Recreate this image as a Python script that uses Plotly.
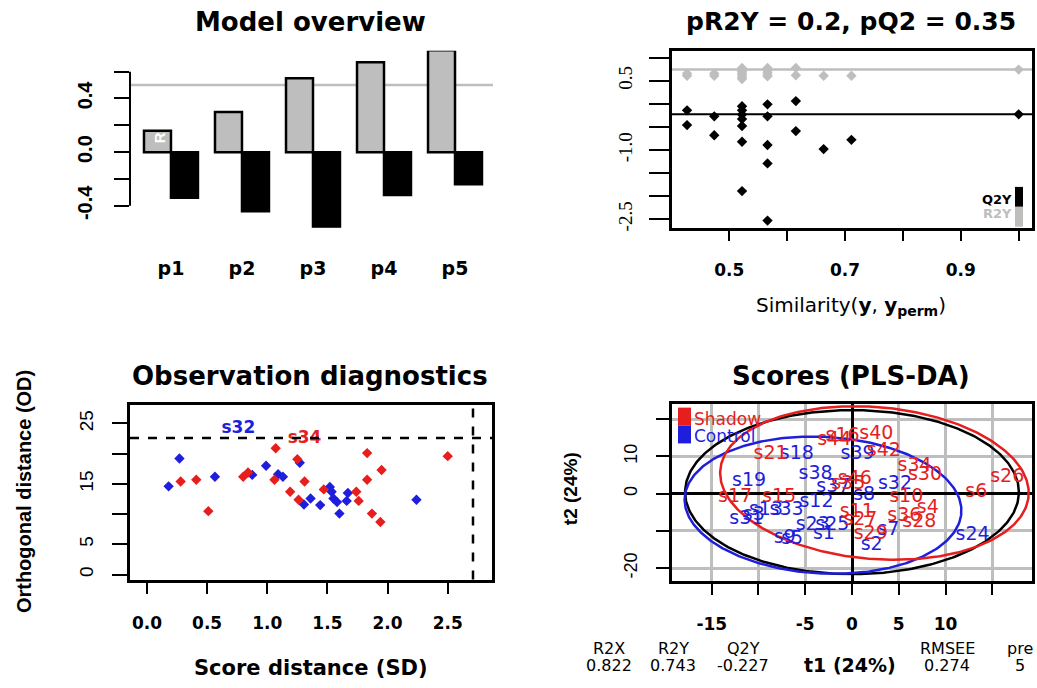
import numpy as np
import plotly.graph_objects as go

W, H = 1037, 688

# ---------------- Panel 1: Model overview ----------------
comps = ["p1", "p2", "p3", "p4", "p5"]
r2y_cum = [0.16, 0.30, 0.55, 0.67, 0.76]
q2_cum = [-0.34, -0.44, -0.56, -0.32, -0.24]
overview_ref = 0.5

# ---------------- Panel 2: permutation test ----------------
perm_sim = [0.427, 0.427, 0.474, 0.474,
            0.522, 0.522, 0.522, 0.522, 0.522, 0.522, 0.522,
            0.566, 0.566, 0.566, 0.566, 0.566,
            0.615, 0.615, 0.663, 0.711, 1.0]
perm_r2y = [0.66, 0.61, 0.66, 0.61,
            0.78, 0.74, 0.70, 0.66, 0.62, 0.58, 0.54,
            0.78, 0.73, 0.68, 0.63, 0.60,
            0.78, 0.62, 0.61, 0.61, 0.743]
perm_q2 = [-0.14, -0.46, -0.27, -0.68,
           -0.05, -0.14, -0.23, -0.33, -0.48, -0.82, -1.89,
           -0.01, -0.27, -0.89, -1.29, -2.53,
           0.06, -0.59, -0.98, -0.78, -0.227]
model_r2y = 0.743
model_q2 = -0.227

# ---------------- Panel 3: Observation diagnostics ----------------
ctrl_sd = [0.18, 0.27, 0.565, 0.875, 0.99, 1.09, 1.13, 1.27, 1.305, 1.36,
           1.44, 1.52, 1.535, 1.55, 1.58, 1.60, 1.66, 1.67, 2.24]
ctrl_od = [14.6, 19.2, 16.2, 16.5, 18.0, 16.6, 16.2, 18.5, 11.6, 12.6,
           11.5, 14.5, 13.7, 12.6, 12.0, 10.1, 12.2, 13.5, 12.4]
shad_sd = [0.28, 0.41, 0.51, 0.80, 0.84, 1.07, 1.06, 1.19, 1.25, 1.26,
           1.31, 1.47, 1.74, 1.76, 1.83, 1.83, 1.87, 1.95, 1.94, 2.50]
shad_od = [15.4, 15.7, 10.5, 16.2, 16.9, 20.9, 15.7, 13.7, 19.1, 12.4,
           15.4, 14.1, 13.7, 12.2, 20.1, 15.7, 10.1, 17.3, 8.7, 19.6]
out_labels = ["s32", "s34"]
out_group = ["Control", "Shadow"]
out_sd = [0.76, 1.31]
out_od = [24.2, 22.5]
sd_limit = 2.71
od_limit = 22.6

# ---------------- Panel 4: Scores (PLS-DA) ----------------
shad_labels = ["s21", "s17", "s15", "s16", "s44", "s40", "s42", "s34", "s30", "s46",
               "s35", "s26", "s6", "s10", "s4", "s11", "s27", "s36", "s28", "s29"]
shad_t1 = [-8.7, -12.5, -7.8, -1.0, -1.9, 2.6, 3.4, 6.7, 7.8, 0.3,
           -0.4, 16.6, 13.3, 5.8, 8.1, 0.5, 0.9, 5.6, 7.2, 2.0]
shad_t2 = [10.6, -1.0, -1.0, 15.3, 14.4, 15.9, 11.4, 7.3, 4.9, 3.8,
           2.5, 4.4, 0.4, -0.9, -3.9, -4.9, -7.1, -6.0, -7.6, -10.8]
ctrl_labels = ["s18", "s19", "s38", "s12", "s33", "s13", "s3", "s31", "s23", "s25",
               "s9", "s5", "s1", "s39", "s37", "s8", "s32", "s7", "s2", "s24"]
ctrl_t1 = [-5.9, -11.0, -3.9, -3.8, -7.0, -9.2, -10.5, -11.3, -4.2, -2.1,
           -7.2, -6.4, -3.0, 0.6, -2.0, 1.3, 4.6, 3.9, 2.1, 12.9]
ctrl_t2 = [10.6, 3.2, 5.3, -2.4, -4.5, -4.5, -5.8, -6.8, -8.5, -8.5,
           -12.0, -12.3, -11.0, 10.6, 1.8, -0.4, 2.4, -9.7, -13.8, -11.3]
ell_names = ["all", "Control", "Shadow"]
ell_cx = [0.0, -3.1, 2.4]
ell_cy = [0.4, -3.1, 2.85]
ell_rx = [17.85, 14.67, 16.14]
ell_ry = [22.0, 18.5, 20.88]
ell_angle = [0.0, 10.0, 15.0]
ell_colors = ["black", "#1E1EDC", "#E61E1E"]

stat_names = ["R2X", "R2Y", "Q2Y", "RMSEE", "pre"]
stat_values = ["0.822", "0.743", "-0.227", "0.274", "5"]

RED = "#E61E1E"
BLUE = "#1E1EDC"
GRAY = "#BEBEBE"
SANS = "DejaVu Sans"
ARIAL = "Liberation Sans"


def px(x):
    return x / W


def py(y):
    return 1 - y / H


fig = go.Figure()

# ---- Panel 1 bars
fig.add_trace(go.Bar(x=comps, y=r2y_cum, marker=dict(color=GRAY, line=dict(color="black", width=2.5)),
                     xaxis="x", yaxis="y", showlegend=False))
fig.add_trace(go.Bar(x=comps, y=q2_cum, marker=dict(color="black", line=dict(color="black", width=2.5)),
                     xaxis="x", yaxis="y", showlegend=False))

# ---- Panel 2 scatter
fig.add_trace(go.Scatter(x=perm_sim, y=perm_r2y, mode="markers",
                         marker=dict(symbol="diamond", size=8, color=GRAY),
                         xaxis="x2", yaxis="y2", showlegend=False))
fig.add_trace(go.Scatter(x=perm_sim, y=perm_q2, mode="markers",
                         marker=dict(symbol="diamond", size=8, color="black"),
                         xaxis="x2", yaxis="y2", showlegend=False))

# ---- Panel 3 scatter
fig.add_trace(go.Scatter(x=ctrl_sd, y=ctrl_od, mode="markers",
                         marker=dict(symbol="diamond", size=8, color=BLUE),
                         xaxis="x3", yaxis="y3", showlegend=False))
fig.add_trace(go.Scatter(x=shad_sd, y=shad_od, mode="markers",
                         marker=dict(symbol="diamond", size=8, color=RED),
                         xaxis="x3", yaxis="y3", showlegend=False))
fig.add_trace(go.Scatter(x=out_sd, y=out_od, mode="text", text=out_labels,
                         textfont=dict(family=SANS, size=17, weight="bold",
                                       color=[BLUE if g == "Control" else RED for g in out_group]),
                         xaxis="x3", yaxis="y3", showlegend=False))

# ---- Panel 4 ellipses and labels
phi = np.linspace(0, 2 * np.pi, 361)
for nm, cx, cy, rx, ry, ang, col in zip(ell_names, ell_cx, ell_cy, ell_rx, ell_ry, ell_angle, ell_colors):
    th = np.deg2rad(ang)
    ex = cx + rx * np.cos(th) * np.cos(phi) - ry * np.sin(th) * np.sin(phi)
    ey = cy + rx * np.sin(th) * np.cos(phi) + ry * np.cos(th) * np.sin(phi)
    fig.add_trace(go.Scatter(x=ex, y=ey, mode="lines", line=dict(color=col, width=2.5),
                             xaxis="x4", yaxis="y4", showlegend=False, hoverinfo="skip"))
fig.add_trace(go.Scatter(x=ctrl_t1, y=ctrl_t2, mode="text", text=ctrl_labels,
                         textfont=dict(family=SANS, size=19, color=BLUE),
                         xaxis="x4", yaxis="y4", showlegend=False))
fig.add_trace(go.Scatter(x=shad_t1, y=shad_t2, mode="text", text=shad_labels,
                         textfont=dict(family=SANS, size=19, color=RED),
                         xaxis="x4", yaxis="y4", showlegend=False))

tick_bold = dict(family=SANS, size=17, color="black", weight="bold")
minor_common = dict(ticks="outside", tickwidth=2, tickcolor="black")

layout = dict(
    width=W, height=H, margin=dict(l=0, r=0, t=0, b=0),
    paper_bgcolor="white", plot_bgcolor="white",
    barmode="group", bargap=0.24, bargroupgap=0,
    showlegend=False,
    # panel 1
    xaxis=dict(domain=[px(130), px(493)], anchor="y", type="category", range=[-0.577, 4.535],
               showline=False, ticks="", showgrid=False, zeroline=False,
               tickfont=dict(family=SANS, size=19, color="black", weight="bold"),
               ticklabelstandoff=27),
    yaxis=dict(domain=[py(229), py(51)], anchor="x", range=[-0.563, 0.756],
               tickvals=[-0.4, 0.0, 0.4], ticktext=["-0.4", "0.0", "0.4"],
               ticks="outside", ticklen=15, tickwidth=2, tickcolor="black",
               minor=dict(tickvals=[-0.2, 0.2, 0.6], ticklen=15, showgrid=False, **minor_common),
               tickangle=-90, showline=False, showgrid=False, zeroline=False,
               tickfont=dict(family=ARIAL, size=20, color="black", weight="bold"),
               ticklabelstandoff=14),
    # panel 2
    xaxis2=dict(domain=[px(672), px(1032)], anchor="y2", range=[0.401, 1.023],
                tickvals=[0.5, 0.7, 0.9], ticktext=["0.5", "0.7", "0.9"],
                ticks="outside", ticklen=11, tickwidth=2, tickcolor="black",
                minor=dict(tickvals=[0.6, 0.8, 1.0], ticklen=11, showgrid=False, **minor_common),
                showline=True, mirror=True, linecolor="black", linewidth=2.5,
                showgrid=False, zeroline=False, tickfont=tick_bold, ticklabelstandoff=14),
    yaxis2=dict(domain=[py(229), py(51)], anchor="x2", range=[-2.683, 1.153],
                tickvals=[-2.5, -1.0, 0.5], ticktext=["-2.5", "-1.0", "0.5"],
                ticks="outside", ticklen=20, tickwidth=2, tickcolor="black",
                minor=dict(tickvals=[-2.0, -1.5, -0.5, 0.0, 1.0], ticklen=20, showgrid=False,
                           **minor_common),
                tickangle=-90, showline=True, mirror=True, linecolor="black", linewidth=2.5,
                showgrid=False, zeroline=False,
                tickfont=dict(family="Liberation Serif", size=19, color="black"),
                ticklabelstandoff=10),
    # panel 3
    xaxis3=dict(domain=[px(130), px(492)], anchor="y3", range=[-0.141, 2.868],
                tickvals=[0.0, 0.5, 1.0, 1.5, 2.0, 2.5],
                ticktext=["0.0", "0.5", "1.0", "1.5", "2.0", "2.5"],
                ticks="outside", ticklen=12, tickwidth=2, tickcolor="black",
                showline=True, mirror=True, linecolor="black", linewidth=2.5,
                showgrid=False, zeroline=False, tickfont=tick_bold, ticklabelstandoff=14),
    yaxis3=dict(domain=[py(583), py(407)], anchor="x3", range=[-0.82, 28.12],
                tickvals=[0, 5, 15, 25], ticktext=["0", "5", "15", "25"],
                ticks="outside", ticklen=15, tickwidth=2, tickcolor="black",
                minor=dict(tickvals=[10, 20], ticklen=15, showgrid=False, **minor_common),
                tickangle=-90, showline=True, mirror=True, linecolor="black", linewidth=2.5,
                showgrid=False, zeroline=False,
                tickfont=dict(family=ARIAL, size=19, color="black"),
                ticklabelstandoff=12),
    # panel 4
    xaxis4=dict(domain=[px(672), px(1032)], anchor="y4", range=[-19.25, 19.25],
                tickvals=[-15, -5, 0, 5, 10], ticktext=["-15", "-5", "0", "5", "10"],
                ticks="outside", ticklen=12, tickwidth=2, tickcolor="black",
                minor=dict(tickvals=[-10, 15], ticklen=12, showgrid=True, gridcolor=GRAY,
                           gridwidth=3, **minor_common),
                showline=True, mirror=True, linecolor="black", linewidth=2.5,
                showgrid=True, gridcolor=GRAY, gridwidth=3,
                zeroline=True, zerolinecolor="black", zerolinewidth=2.5,
                tickfont=tick_bold, ticklabelstandoff=14),
    yaxis4=dict(domain=[py(584), py(406.7)], anchor="x4", range=[-23.33, 23.95],
                tickvals=[-20, 0, 10], ticktext=["-20", "0", "10"],
                ticks="outside", ticklen=13, tickwidth=2, tickcolor="black",
                minor=dict(tickvals=[-10, 20], ticklen=13, showgrid=True, gridcolor=GRAY,
                           gridwidth=3, **minor_common),
                tickangle=-90, showline=True, mirror=True, linecolor="black", linewidth=2.5,
                showgrid=True, gridcolor=GRAY, gridwidth=3,
                zeroline=True, zerolinecolor="black", zerolinewidth=2.5,
                tickfont=dict(family=ARIAL, size=18, color="black"),
                ticklabelstandoff=12),
)
fig.update_layout(**layout)

shapes = [
    # panel 1 axis line & reference line
    dict(type="line", xref="x domain", yref="y", x0=0, x1=0, y0=-0.4, y1=0.6,
         line=dict(color="black", width=2)),
    dict(type="line", xref="x domain", yref="y", x0=0, x1=1, y0=overview_ref, y1=overview_ref,
         line=dict(color=GRAY, width=2.5), layer="below"),
    # panel 2 model lines
    dict(type="line", xref="x2 domain", yref="y2", x0=0, x1=1, y0=model_r2y, y1=model_r2y,
         line=dict(color=GRAY, width=2.5), layer="below"),
    dict(type="line", xref="x2 domain", yref="y2", x0=0, x1=1, y0=model_q2, y1=model_q2,
         line=dict(color="black", width=2), layer="below"),
    # panel 2 legend swatches
    dict(type="rect", xref="paper", yref="paper", x0=px(1015), x1=px(1023), y0=py(208), y1=py(188),
         fillcolor="black", line=dict(width=0)),
    dict(type="rect", xref="paper", yref="paper", x0=px(1015), x1=px(1023), y0=py(228), y1=py(208),
         fillcolor=GRAY, line=dict(width=0)),
    # panel 3 limits
    dict(type="line", xref="x3 domain", yref="y3", x0=0, x1=1, y0=od_limit, y1=od_limit,
         line=dict(color="black", width=2.5, dash="dash")),
    dict(type="line", xref="x3", yref="y3 domain", x0=sd_limit, x1=sd_limit, y0=0, y1=1,
         line=dict(color="black", width=2.5, dash="dash")),
    # panel 4 legend swatches
    dict(type="rect", xref="paper", yref="paper", x0=px(678), x1=px(691), y0=py(428), y1=py(410),
         fillcolor=RED, line=dict(width=0)),
    dict(type="rect", xref="paper", yref="paper", x0=px(678), x1=px(691), y0=py(446), y1=py(428),
         fillcolor=BLUE, line=dict(width=0)),
]
fig.update_layout(shapes=shapes)


def ann(text, x, y, size, bold=False, color="black", family=SANS, angle=0, xanchor="center"):
    return dict(text=text, x=px(x), y=py(y), xref="paper", yref="paper", showarrow=False,
                xanchor=xanchor, yanchor="middle", textangle=angle,
                font=dict(family=family, size=size, color=color, weight="bold" if bold else "normal"))


annotations = [
    ann("Model overview", 310, 22, 26, bold=True),
    ann("pR2Y = 0.2, pQ2 = 0.35", 851, 22, 25, bold=True),
    ann("Observation diagnostics", 310, 378, 26, bold=True),
    ann("Scores (PLS-DA)", 851, 378, 26, bold=True),
    ann("Similarity(<b>y</b>, <b>y<sub>perm</sub></b>)", 851, 308, 20),
    ann("Score distance (SD)", 311, 672, 21, bold=True),
    ann("Orthogonal distance (OD)", 24, 495, 20, bold=True, family=ARIAL, angle=-90),
    ann("t2 (24%)", 570, 492, 19, bold=True, family=ARIAL, angle=-90),
    ann("t1 (24%)", 850, 669, 19, bold=True),
    ann("Q2Y", 997, 201, 13, bold=True),
    ann("R2Y", 997, 215, 13, bold=True, color=GRAY),
    ann("Shadow", 692, 421, 17, color=RED, xanchor="left"),
    ann("Control", 692, 439, 17, color=BLUE, xanchor="left"),
    dict(text="R", x="p1", y=0.11, xref="x", yref="y", xshift=-12, showarrow=False,
         textangle=-90, font=dict(family=ARIAL, size=15, color="white", weight="bold")),
]
stat_x = [609, 673, 743, 947, 1020]
for nm, val, sx in zip(stat_names, stat_values, stat_x):
    annotations.append(ann(nm, sx, 652, 16))
    annotations.append(ann(val, sx, 669, 16))
fig.update_layout(annotations=annotations)

fig.write_html("out.html")
